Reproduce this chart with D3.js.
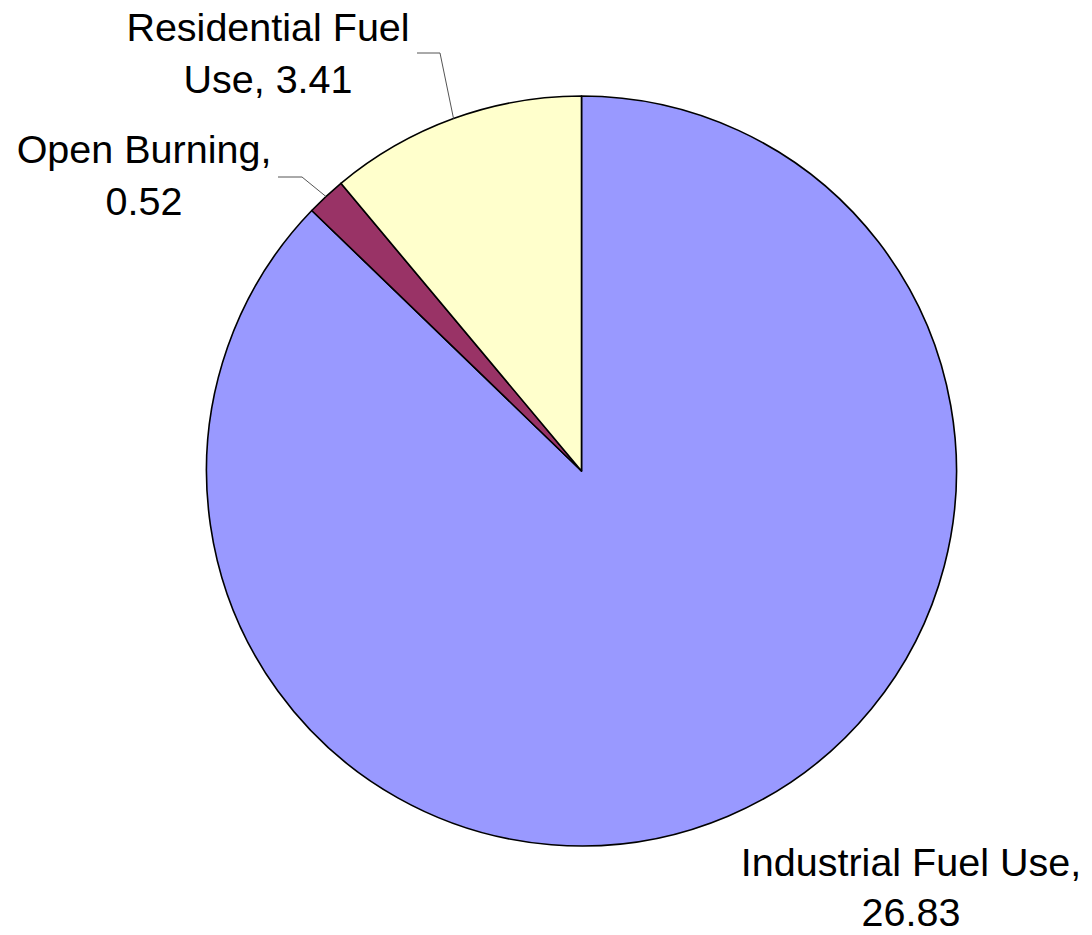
<!DOCTYPE html>
<html>
<head>
<meta charset="utf-8">
<script src="https://cdn.jsdelivr.net/npm/d3@7"></script>
<style>
  body { margin: 0; background: #fff; }
</style>
</head>
<body>
<div id="chart"></div>
<script>
// data
var categories = ["Industrial Fuel Use", "Open Burning", "Residential Fuel Use"];
var values = [26.83, 0.52, 3.41];
var colors = ["#9999FF", "#993366", "#FFFFCC"];

// label text lines, one entry per slice
var label_lines = [
    ["Industrial Fuel Use,", "26.83"],
    ["Open Burning,", "0.52"],
    ["Residential Fuel", "Use, 3.41"]
];

let width = 1092, height = 935;
let cx = 581.5, cy = 471, radius = 375;
let font_size = 39.5, line_height = 51.5;

// where each label block sits (center x, first baseline y, line gap) and the leader elbow
let label_pos = [
    { x: 911, y: 876, gap: 50, leader: null },
    { x: 144, y: 163, gap: line_height, leader: [[278, 177], [302, 177]] },
    { x: 268, y: 41, gap: line_height, leader: [[417, 53], [440, 53]] }
];

var data = categories.map(function(c, i) {
    return { name: c, value: values[i], color: colors[i], lines: label_lines[i], pos: label_pos[i] };
});

var svg = d3.select("#chart")
    .append("svg")
    .attr("width", width)
    .attr("height", height);

var g = svg.append("g")
    .attr("transform", "translate(" + cx + "," + cy + ")");

var pie = d3.pie()
    .sort(null)
    .value(function(d) { return d.value; });

var arc = d3.arc()
    .outerRadius(radius)
    .innerRadius(0);

var arcs = pie(data);

g.selectAll(".slice")
    .data(arcs)
    .enter().append("path")
    .attr("class", "slice")
    .attr("d", arc)
    .attr("fill", function(d) { return d.data.color; })
    .attr("stroke", "#000")
    .attr("stroke-width", 1.6)
    .attr("stroke-linejoin", "round");

// leader lines from label elbow to the slice edge at its mid angle
var leader = d3.line();
arcs.forEach(function(d) {
    if (!d.data.pos.leader) return;
    var mid = (d.startAngle + d.endAngle) / 2;
    var end = [cx + radius * Math.sin(mid), cy - radius * Math.cos(mid)];
    var pts = d.data.pos.leader.concat([end]);
    svg.append("path")
        .attr("d", leader(pts))
        .attr("fill", "none")
        .attr("stroke", "#555")
        .attr("stroke-width", 1);
});

// the labels
arcs.forEach(function(d) {
    var t = svg.append("text")
        .attr("x", d.data.pos.x)
        .attr("y", d.data.pos.y)
        .style("text-anchor", "middle")
        .style("font-family", "'Liberation Sans', Arial, sans-serif")
        .style("font-size", font_size + "px")
        .attr("fill", "#000");
    d.data.lines.forEach(function(line, i) {
        t.append("tspan")
            .attr("x", d.data.pos.x)
            .attr("y", d.data.pos.y + i * d.data.pos.gap)
            .text(line);
    });
});
</script>
</body>
</html>
